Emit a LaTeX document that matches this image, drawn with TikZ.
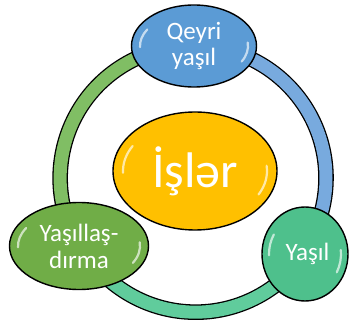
\documentclass[tikz,border=0pt]{standalone}
\usepackage{fontspec}
\setmainfont{Carlito}
\usetikzlibrary{shapes.geometric,backgrounds}

\definecolor{qblue}{RGB}{91,155,213}
\definecolor{gold}{RGB}{255,192,0}
\definecolor{leaf}{RGB}{112,173,71}
\definecolor{mint}{RGB}{78,192,140}
\definecolor{ringgreen}{RGB}{128,190,100}
\definecolor{ringblue}{RGB}{120,170,222}
\definecolor{ringmint}{RGB}{96,204,156}

\tikzstyle{bubble} = [ellipse, 
inner sep=0pt, 
align=center, 
text=white, 
draw=black, 
line width=1.4pt]
\tikzstyle{hubnode} = [bubble, 
minimum width=164pt, 
minimum height=118pt, 
fill=gold, 
font=\fontsize{50}{58}\selectfont]
\tikzstyle{ringline} = [line width=1.3pt, 
draw=black, 
double distance=13pt]
\tikzstyle{glint} = [white, 
line width=2.2pt, 
line cap=round, 
opacity=0.65]

% two white reflections inside a bubble
\newcommand{\gloss}[3]{%
\draw [glint] (#1.center) ++(150:#2 and #3) arc (150:182:#2 and #3);
\draw [glint] (#1.center) ++(-28:#2 and #3) arc (-28:6:#2 and #3);
}

\begin{document}
\begin{tikzpicture}[x=1pt, y=1pt]
\useasboundingbox (0,0) rectangle (349,322);

\node (isler) [hubnode] at (195,151) {İşlər};
\node (qeyri) [bubble, fill=qblue, minimum width=125pt, minimum height=82pt,
  font=\fontsize{25}{26}\selectfont] at (194,276) {Qeyri\\yaşıl};
\node (yasil) [bubble, fill=mint, minimum width=86pt, minimum height=94pt,
  font=\fontsize{25}{27}\selectfont] at (305,68) {\hspace{5pt}Yaşıl};
\node (yasillas) [bubble, fill=leaf, minimum width=139pt, minimum height=87pt,
  font=\fontsize{25}{27}\selectfont] at (79,76) {Yaşıllaş-\\dırma};

\gloss{isler}{72pt}{50pt}
\gloss{qeyri}{54pt}{33pt}
\gloss{yasil}{36pt}{39pt}
\gloss{yasillas}{61pt}{36pt}

\begin{scope}[on background layer]
\draw [ringline, double=ringblue] (qeyri.center) arc (90:-34:132);
\draw [ringline, double=ringmint] (yasil.center) arc (-34:-149:132);
\draw [ringline, double=ringgreen] (yasillas.center) arc (211:90:132);
\end{scope}
\end{tikzpicture}
\end{document}
